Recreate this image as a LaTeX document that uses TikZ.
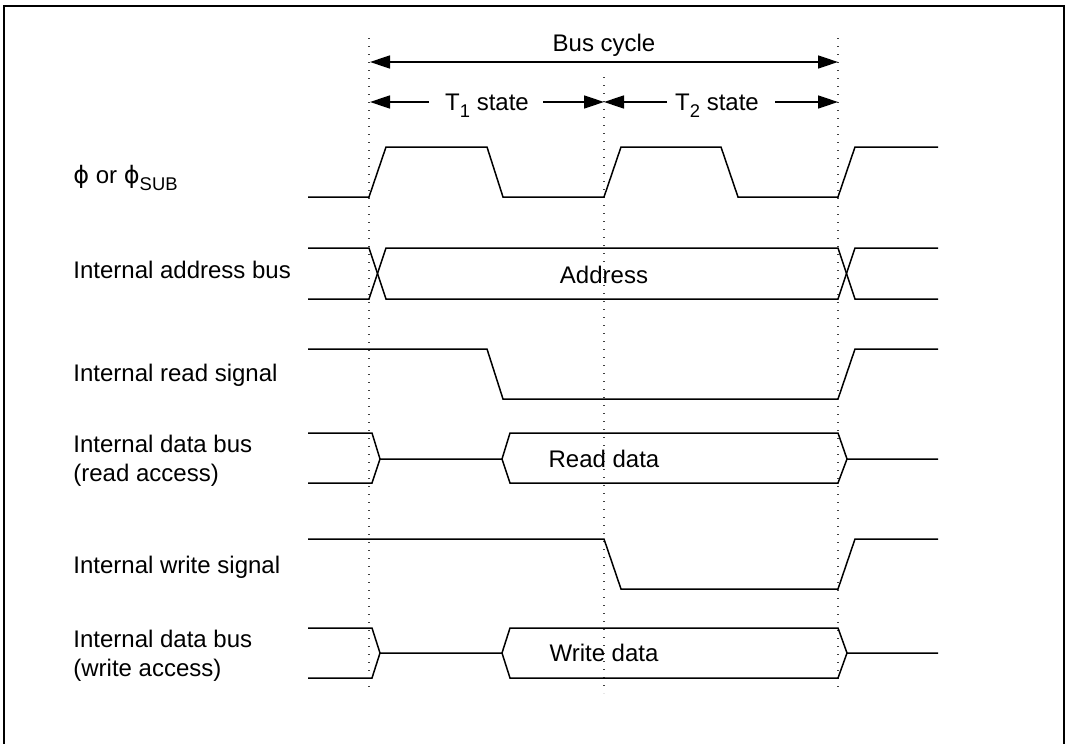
\documentclass[tikz,border=0pt]{standalone}
\usepackage{fontspec}
\setmainfont{Liberation Sans}
\newfontfamily\dvfont{DejaVu Sans}
\usetikzlibrary{arrows.meta}
\begin{document}
\begin{tikzpicture}[x=0.5pt,y=-0.5pt,
  sig/.style={line width=0.75pt, line join=miter},
  gridline/.style={line width=0.6pt, black!75, dash pattern=on 0.6pt off 3.4pt},
  lab/.style={anchor=base west, inner sep=0pt, font=\fontsize{12}{14}\selectfont},
  ctext/.style={anchor=base, inner sep=0pt, font=\fontsize{12}{14}\selectfont},
  tip/.style={-{Triangle[length=10pt,width=6.5pt]}, line width=0.75pt},
  dimarrow/.style={{Triangle[length=10pt,width=6.5pt]}-{Triangle[length=10pt,width=6.5pt]}, line width=0.75pt}
]
\newcommand{\smallsub}[1]{\raisebox{-0.3em}{\fontsize{9.2}{10}\selectfont #1}}
\useasboundingbox (0,0) rectangle (1067,744);
% frame
\draw[line width=1pt] (4,744) -- (4,6) -- (1064,6) -- (1064,744);

% dotted guide lines
\coordinate (g1t) at (369,38);  \coordinate (g1b) at (369,693);
\coordinate (g2t) at (604,77);  \coordinate (g2b) at (604,693);
\coordinate (g3t) at (838,38);  \coordinate (g3b) at (838,693);
\draw[gridline] (g1t) -- (g1b);
\draw[gridline] (g2t) -- (g2b);
\draw[gridline] (g3t) -- (g3b);

% bus cycle
\node[ctext] (bc) at (604,52) {Bus cycle};
\coordinate (bcL) at (370,62); \coordinate (bcR) at (838,62);
\draw[dimarrow] (bcL) -- (bcR);

% T1 / T2 state
\node[ctext] (t1) at (487,110) {T\smallsub{1} state};
\node[ctext] (t2) at (717,110) {T\smallsub{2} state};
\coordinate (t1a) at (429,102); \coordinate (t1L) at (370,102);
\coordinate (t1b) at (543,102); \coordinate (t1R) at (604,102);
\coordinate (t2a) at (667,102); \coordinate (t2L) at (604,102);
\coordinate (t2b) at (775,102); \coordinate (t2R) at (838,102);
\draw[tip] (t1a) -- (t1L);
\draw[tip] (t1b) -- (t1R);
\draw[tip] (t2a) -- (t2L);
\draw[tip] (t2b) -- (t2R);

% labels
\node[lab] (lphi) at (73,183) {{\dvfont ϕ} or {\dvfont ϕ}\smallsub{SUB}};
\node[lab] (laddr) at (73,278) {Internal address bus};
\node[lab] (lrd) at (73,381) {Internal read signal};
\node[lab] (ldr1) at (73,452) {Internal data bus};
\node[lab] (ldr2) at (73,481) {(read access)};
\node[lab] (lwr) at (73,573) {Internal write signal};
\node[lab] (ldw1) at (73,647) {Internal data bus};
\node[lab] (ldw2) at (73,676) {(write access)};

% phi clock
\draw[sig] (308,197) -- (369,197) -- (386,147) -- (487,147) -- (503,197) -- (604,197)
  -- (621,147) -- (721,147) -- (738,197) -- (838,197) -- (855,147) -- (938,147);

% address bus
\draw[sig] (308,248) -- (369,248) -- (386,299) -- (838,299) -- (855,248) -- (938,248);
\draw[sig] (308,299) -- (369,299) -- (386,248) -- (838,248) -- (855,299) -- (938,299);
\node[ctext] (addr) at (604,283) {Address};

% read signal
\draw[sig] (308,349) -- (487,349) -- (503,399) -- (838,399) -- (855,349) -- (938,349);

% read data bus
\draw[sig] (308,433) -- (372,433) -- (380,459) -- (502,459) -- (510,433) -- (838,433) -- (847,459) -- (938,459);
\draw[sig] (308,483) -- (372,483) -- (380,459);
\draw[sig] (502,459) -- (510,483) -- (838,483) -- (847,459);
\node[ctext] (rdata) at (604,467) {Read data};

% write signal
\draw[sig] (308,539) -- (604,539) -- (621,589) -- (838,589) -- (855,539) -- (938,539);

% write data bus
\draw[sig] (308,628) -- (372,628) -- (380,653) -- (502,653) -- (510,628) -- (838,628) -- (847,653) -- (938,653);
\draw[sig] (308,678) -- (372,678) -- (380,653);
\draw[sig] (502,653) -- (510,678) -- (838,678) -- (847,653);
\node[ctext] (wdata) at (604,661) {Write data};
\end{tikzpicture}
\end{document}
